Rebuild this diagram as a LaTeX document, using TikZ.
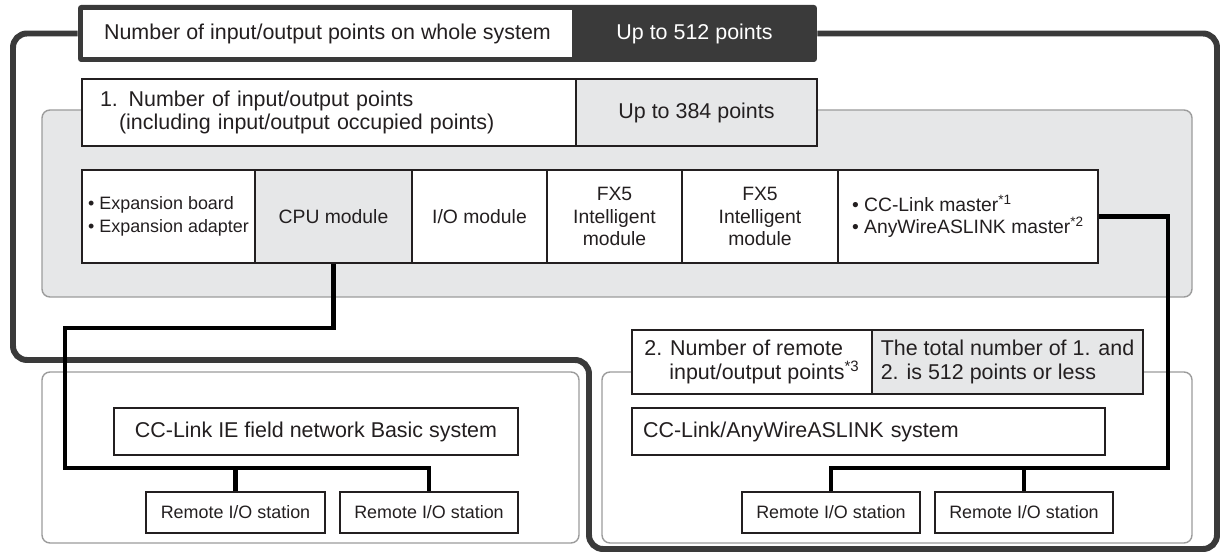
\documentclass[tikz,border=0pt]{standalone}
\usepackage{fontspec}
\setmainfont{Liberation Sans}
\usepackage{tikz}
\usepackage{xcolor}

\definecolor{ink}{HTML}{231F20}
\definecolor{hdrgray}{HTML}{3A3A3A}
\definecolor{panelfill}{HTML}{E6E7E8}
\definecolor{panelline}{HTML}{9C9C9C}

\tikzset{
  big/.style={font=\fontsize{12.2}{13.6}\selectfont},
  mid/.style={font=\fontsize{11}{12.8}\selectfont},
  small/.style={font=\fontsize{10.2}{13.4}\selectfont},
  cell/.style={draw=ink, line width=0.8pt, fill=white, text=ink, inner sep=0pt, align=center},
  shaded/.style={cell, fill=panelfill},
  panel/.style={draw=panelline, line width=0.8pt, rounded corners=0.16cm},
  loopline/.style={draw=hdrgray, line width=3.4pt, rounded corners=0.28cm},
  link/.style={draw=black, line width=2.8pt},
}

\begin{document}
\begin{tikzpicture}[x=0.02cm, y=-0.02cm]
  \useasboundingbox[fill=white] (0,0) rectangle (1220,553);

  % header
  \node[fill=hdrgray, rounded corners=0.06cm, minimum width=14.78cm, minimum height=1.14cm] (hdr) at (447.5,33.5) {};
  \node[fill=white, big, text=ink, minimum width=9.78cm, minimum height=0.94cm] (hdrL) at (327.5,33.5) {Number of input/output points on whole system};
  \node[big, text=white] (hdrR) at (694.5,33.5) {Up to 512 points};

  % loop round the whole system
  \coordinate (loopA) at (13,360);
  \coordinate (loopB) at (589,549);
  \coordinate (loopC) at (1217,33.5);
  \draw[loopline] (hdr.west) -| (loopA) -| (loopB) -| (loopC) -- (hdr.east);

  % top panel: main unit
  \draw[panel, fill=panelfill] (42,110) rectangle (1192,297);
  \node[cell, big, minimum width=9.88cm, minimum height=1.34cm, text width=9.16cm, inner xsep=0.36cm, align=left] (pts1) at (329,112.5)
    {1. Number of input/output points\\\hspace*{0.38cm}(including input/output occupied points)};
  \node[shaded, big, minimum width=4.82cm, minimum height=1.34cm] (max1) at (696.5,112.5) {Up to 384 points};

  % module row
  \node[cell, small, minimum width=3.46cm, minimum height=1.86cm, align=left] (exp) at (168.5,216.5)
    {\textbullet\ Expansion board\\\textbullet\ Expansion adapter};
  \node[shaded, mid, minimum width=3.14cm, minimum height=1.86cm] (cpu) at (333.5,216.5) {CPU module};
  \node[cell, mid, minimum width=2.7cm, minimum height=1.86cm] (io) at (479.5,216.5) {I/O module};
  \node[cell, mid, minimum width=2.7cm, minimum height=1.86cm] (fx1) at (614.5,216.5) {FX5\\Intelligent\\module};
  \node[cell, mid, minimum width=3.12cm, minimum height=1.86cm] (fx2) at (760,216.5) {FX5\\Intelligent\\module};
  \node[cell, mid, minimum width=5.2cm, minimum height=1.86cm, align=left] (mst) at (968,216.5)
    {\textbullet\ CC-Link master\textsuperscript{*1}\\\textbullet\ AnyWireASLINK master\textsuperscript{*2}};

  % bottom left panel
  \draw[panel, fill=white] (42,372) rectangle (579,543);
  \node[cell, big, minimum width=8.08cm, minimum height=0.94cm] (ieb) at (316,431.5) {CC-Link IE field network Basic system};
  \node[cell, small, minimum width=3.58cm, minimum height=0.82cm] (rio1) at (235.5,512.5) {Remote I/O station};
  \node[cell, small, minimum width=3.56cm, minimum height=0.82cm] (rio2) at (429,512.5) {Remote I/O station};

  % bottom right panel
  \draw[panel, fill=white] (602,372) rectangle (1192,543);
  \node[cell, big, minimum width=4.8cm, minimum height=1.28cm, align=left] (rem) at (752,362)
    {2. Number of remote\\\hspace*{0.5cm}input/output points\textsuperscript{*3}};
  \node[shaded, big, minimum width=5.42cm, minimum height=1.28cm, align=left] (tot) at (1007.5,362)
    {The total number of 1. and\\2. is 512 points or less};
  \node[cell, big, minimum width=9.46cm, minimum height=0.94cm, text width=9.02cm, inner xsep=0.22cm, align=left] (anw) at (868.5,431.5)
    {CC-Link/AnyWireASLINK system};
  \node[cell, small, minimum width=3.56cm, minimum height=0.82cm] (rio3) at (831,512.5) {Remote I/O station};
  \node[cell, small, minimum width=3.56cm, minimum height=0.82cm] (rio4) at (1024,512.5) {Remote I/O station};

  % network lines
  \coordinate (cpuTurn) at (65,328);
  \coordinate (busL) at (65,468);
  \draw[link] (cpu.south) |- (cpuTurn) -- (busL) -| (rio2.north);
  \draw[link] (rio1.north) -- (rio1.north |- busL);
  \coordinate (busR) at (1168,468);
  \draw[link] (mst.east) -| (busR) -| (rio3.north);
  \draw[link] (rio4.north) -- (rio4.north |- busR);
\end{tikzpicture}
\end{document}
